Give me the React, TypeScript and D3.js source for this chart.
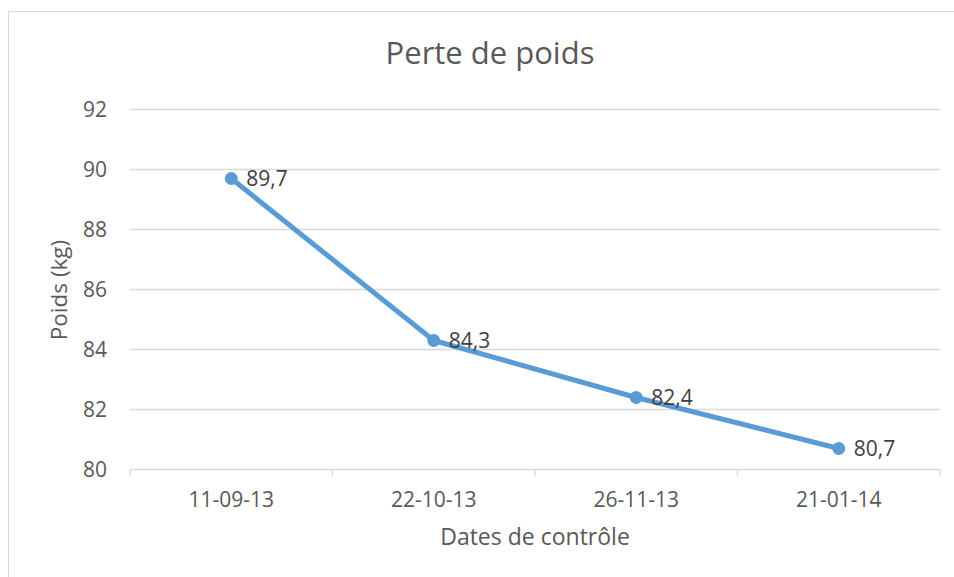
import React from 'react';
import * as d3 from 'd3';

const dates = ['11-09-13', '22-10-13', '26-11-13', '21-01-14'];
const poids = [89.7, 84.3, 82.4, 80.7];
const yTicks = [80, 82, 84, 86, 88, 90, 92];

const W = 954;
const H = 577;
const plot = { left: 130, right: 940, top: 109.5, bottom: 469.5 };
const font = '"Open Sans", sans-serif';
const grey = '#595959';
const gridColor = '#d9d9d9';
const blue = '#5b9bd5';

const App = () => {
    const x = d3.scaleBand<string>()
        .domain(dates)
        .range([plot.left, plot.right]);

    const y = d3.scaleLinear()
        .domain([80, 92])
        .range([plot.bottom, plot.top]);

    const cx = (d: string) => (x(d) || 0) + x.bandwidth() / 2;

    const line = d3.line<number>()
        .x((d, i) => cx(dates[i]))
        .y(d => y(d));

    // tick marks sit on the band boundaries, like Excel
    const boundaries = dates.map(d => x(d) || 0).concat([plot.right]);

    return (
        <svg width={W} height={H} style={{ position: 'absolute', left: 0, top: 0, background: '#fff' }}>
            <rect x={8.5} y={11.5} width={W} height={H} fill="#fff" stroke={gridColor} />

            <text x={490} y={64} textAnchor="middle" fontFamily={font} fontSize={31} fill={grey}>
                Perte de poids
            </text>

            {yTicks.map(t => (
                <g key={t}>
                    <line x1={plot.left} x2={plot.right} y1={y(t)} y2={y(t)} stroke={gridColor} strokeWidth={1.3} />
                    <text x={107} y={y(t)} dy="0.36em" textAnchor="end" fontFamily={font} fontSize={21} fill={grey}>
                        {t}
                    </text>
                </g>
            ))}

            {boundaries.map((b, i) => (
                <line key={i} x1={b} x2={b} y1={plot.bottom} y2={plot.bottom + 7} stroke={gridColor} strokeWidth={1.3} />
            ))}

            {dates.map(d => (
                <text key={d} x={cx(d)} y={507} textAnchor="middle" fontFamily={font} fontSize={21} fill={grey}>
                    {d}
                </text>
            ))}

            <text x={535} y={545} textAnchor="middle" fontFamily={font} fontSize={23} fill={grey}>
                Dates de contrôle
            </text>

            <text transform="translate(67,290) rotate(-90)" textAnchor="middle" fontFamily={font} fontSize={22.5} fill={grey}>
                Poids (kg)
            </text>

            <path d={line(poids) || ''} fill="none" stroke={blue} strokeWidth={5} strokeLinejoin="round" strokeLinecap="round" />

            {poids.map((v, i) => (
                <g key={i}>
                    <circle cx={cx(dates[i])} cy={y(v)} r={6.5} fill={blue} />
                    <text x={cx(dates[i]) + 15} y={y(v)} dy="0.36em" fontFamily={font} fontSize={21} fill="#404040">
                        {v.toFixed(1).replace('.', ',')}
                    </text>
                </g>
            ))}
        </svg>
    );
};

export default App;
